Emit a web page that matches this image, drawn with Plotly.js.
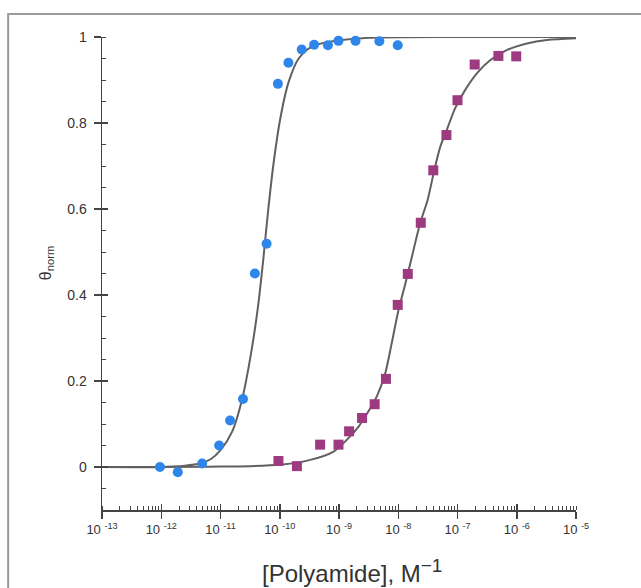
<!DOCTYPE html>
<html>
<head>
<meta charset="utf-8">
<script src="https://cdn.plot.ly/plotly-3.0.1.min.js"></script>
<style>html,body{margin:0;padding:0;background:#fff;}#chart{width:641px;height:588px;}</style>
</head>
<body>
<div id="chart"></div>
<script>
// Blue circles (first polyamide)
const blueConc = [9.5e-13, 1.9e-12, 4.9e-12, 9.5e-12, 1.45e-11, 2.4e-11, 3.8e-11, 6.0e-11, 9.3e-11,
                  1.4e-10, 2.35e-10, 3.8e-10, 6.5e-10, 9.8e-10, 1.9e-9, 4.8e-9, 9.8e-9];
const blueTheta = [0.0, -0.012, 0.008, 0.05, 0.108, 0.158, 0.45, 0.519, 0.891,
                   0.94, 0.971, 0.982, 0.981, 0.991, 0.991, 0.99, 0.981];
// Magenta squares (second polyamide)
const pinkConc = [9.5e-11, 1.95e-10, 4.8e-10, 9.8e-10, 1.48e-9, 2.45e-9, 4.0e-9, 6.2e-9, 9.8e-9,
                  1.45e-8, 2.4e-8, 3.9e-8, 6.5e-8, 1.0e-7, 1.95e-7, 4.9e-7, 9.8e-7];
const pinkTheta = [0.014, 0.002, 0.052, 0.052, 0.083, 0.114, 0.146, 0.205, 0.377,
                   0.449, 0.568, 0.69, 0.772, 0.853, 0.936, 0.956, 0.955];
// Fitted curves
const blueFitConc = [1e-13, 1e-12, 2.5e-12, 4.5e-12, 6.8e-12, 1.0e-11, 1.58e-11, 2.34e-11, 3.24e-11,
                     4.27e-11, 5.25e-11, 6.3e-11, 7.76e-11, 1.02e-10, 1.41e-10, 2.09e-10, 3.55e-10,
                     7.9e-10, 3.2e-9, 1e-7, 1e-5];
const blueFitTheta = [0, 0, 0.003, 0.008, 0.018, 0.039, 0.083, 0.16, 0.26,
                      0.37, 0.48, 0.59, 0.70, 0.81, 0.895, 0.95, 0.978,
                      0.99, 0.998, 1, 1];
const pinkFitConc = [1e-13, 1e-11, 1e-10, 3.16e-10, 8.1e-10, 1.35e-9, 2.14e-9, 3.16e-9, 4.37e-9,
                     6.03e-9, 7.76e-9, 1.0e-8, 1.32e-8, 1.7e-8, 2.34e-8, 3.13e-8, 4.07e-8,
                     5.13e-8, 6.6e-8, 9.1e-8, 1.35e-7, 2.14e-7, 3.55e-7, 6.9e-7, 1.48e-6,
                     3.24e-6, 1e-5];
const pinkFitTheta = [0, 0.001, 0.005, 0.016, 0.036, 0.063, 0.094, 0.13, 0.165,
                      0.218, 0.288, 0.362, 0.427, 0.489, 0.567, 0.621, 0.691,
                      0.745, 0.784, 0.834, 0.877, 0.916, 0.946, 0.970, 0.985,
                      0.993, 0.997];
// Tick labels
const xTickVals = [1e-13, 1e-12, 1e-11, 1e-10, 1e-9, 1e-8, 1e-7, 1e-6, 1e-5];
const xTickText = ['10 <sup>-13</sup>', '10 <sup>-12</sup>', '10 <sup>-11</sup>', '10 <sup>-10</sup>',
                   '10 <sup>-9</sup>', '10 <sup>-8</sup>', '10 <sup>-7</sup>', '10 <sup>-6</sup>', '10 <sup>-5</sup>'];
const yTickVals = [0, 0.2, 0.4, 0.6, 0.8, 1];
const yTickText = ['0', '0.2', '0.4', '0.6', '0.8', '1'];

const axisColor = '#444';
const fontFam = 'Liberation Sans, Arial, Helvetica, sans-serif';

const traces = [
  {x: blueFitConc, y: blueFitTheta, type: 'scatter', mode: 'lines',
   line: {color: '#606060', width: 2, shape: 'spline', smoothing: 0.8}, cliponaxis: false, hoverinfo: 'skip'},
  {x: pinkFitConc, y: pinkFitTheta, type: 'scatter', mode: 'lines',
   line: {color: '#606060', width: 2, shape: 'spline', smoothing: 0.8}, cliponaxis: false, hoverinfo: 'skip'},
  {x: blueConc, y: blueTheta, type: 'scatter', mode: 'markers', xaxis: 'x2', yaxis: 'y2',
   marker: {symbol: 'circle', size: 10, color: '#2e86ea'}, cliponaxis: false},
  {x: pinkConc, y: pinkTheta, type: 'scatter', mode: 'markers', xaxis: 'x2', yaxis: 'y2',
   marker: {symbol: 'square', size: 10, color: '#9e3b80'}, cliponaxis: false}
];

const layout = {
  width: 641, height: 588,
  margin: {l: 102, r: 65, t: 37, b: 78},
  paper_bgcolor: '#fff', plot_bgcolor: 'rgba(0,0,0,0)',
  showlegend: false,
  font: {family: fontFam, color: '#333'},
  xaxis: {
    type: 'log', range: [-13, -5], showgrid: false, zeroline: false,
    showline: true, linecolor: axisColor, linewidth: 1.5,
    ticks: 'outside', ticklen: 7, tickwidth: 1.5, tickcolor: axisColor,
    tickmode: 'array', tickvals: xTickVals, ticktext: xTickText,
    tickfont: {family: fontFam, size: 13, color: '#333'},
    minor: {ticks: 'inside', ticklen: 4, tickwidth: 1, tickcolor: axisColor, dtick: 'D1', showgrid: false}
  },
  yaxis: {
    range: [-0.1, 1], showgrid: false, zeroline: false,
    showline: true, linecolor: axisColor, linewidth: 1.5,
    ticks: 'outside', ticklen: 7, tickwidth: 1.5, tickcolor: axisColor,
    tickmode: 'array', tickvals: yTickVals, ticktext: yTickText,
    ticklabelstandoff: 4,
    tickfont: {family: fontFam, size: 14, color: '#333'},
    minor: {ticks: 'inside', ticklen: 4, tickwidth: 1, tickcolor: axisColor, dtick: 0.05, showgrid: false}
  },
  xaxis2: {
    type: 'log', range: [-13, -5], overlaying: 'x', anchor: 'y2', side: 'bottom',
    showgrid: false, zeroline: false, showline: false,
    ticks: 'inside', ticklen: 6, tickwidth: 1.5, tickcolor: axisColor,
    tickmode: 'array', tickvals: xTickVals, showticklabels: false
  },
  yaxis2: {
    range: [-0.1, 1], overlaying: 'y', anchor: 'x2', side: 'left',
    showgrid: false, zeroline: false, showline: false,
    ticks: 'inside', ticklen: 6, tickwidth: 1.5, tickcolor: axisColor,
    tickmode: 'array', tickvals: yTickVals, showticklabels: false
  },
  annotations: [
    {text: '[Polyamide], M<sup><span style="font-size:19px">−1</span></sup>', xref: 'paper', yref: 'paper', x: 0.527, y: -0.13,
     xanchor: 'center', yanchor: 'middle', showarrow: false,
     font: {family: fontFam, size: 24, color: '#333'}},
    {text: 'θ<sub>norm</sub>', xref: 'paper', yref: 'paper', x: -0.118, y: 0.522,
     xanchor: 'center', yanchor: 'middle', showarrow: false, textangle: -90,
     font: {family: fontFam, size: 16, color: '#333'}}
  ],
  shapes: [
    {type: 'rect', xref: 'paper', yref: 'paper', x0: -0.198, x1: 1.2, y0: -0.25, y1: 1.0486,
     line: {color: '#9a9a9a', width: 2}, fillcolor: 'rgba(0,0,0,0)', layer: 'below'}
  ]
};

Plotly.newPlot('chart', traces, layout, {displayModeBar: false, staticPlot: true});
</script>
</body>
</html>
